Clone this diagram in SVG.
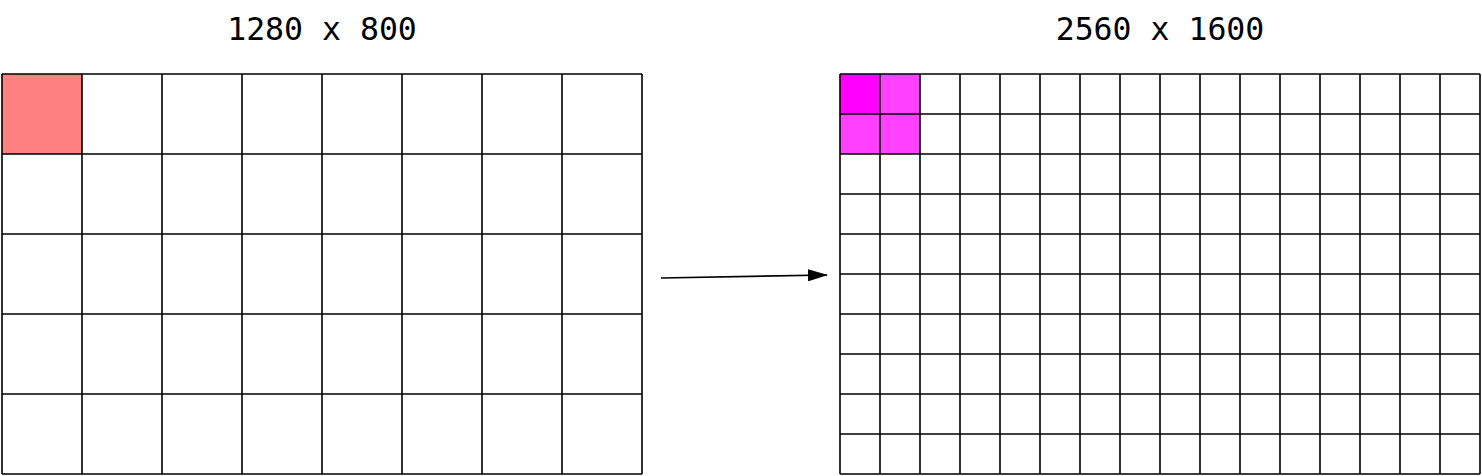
<svg xmlns="http://www.w3.org/2000/svg" width="1482" height="476" viewBox="0 0 1482 476">
<style>
.t{font-family:"DejaVu Sans Mono","Liberation Mono",monospace;font-size:31.5px;fill:#000;text-anchor:middle}
.g{fill:none;stroke:#000;stroke-width:1.6}
.c{stroke:#000;stroke-width:1.6}
</style>
<defs>
<marker id="ah" markerWidth="20" markerHeight="12" refX="19" refY="6" orient="auto" markerUnits="userSpaceOnUse">
<path d="M0,0 L20,6 L0,12 z" fill="#000"/>
</marker>
</defs>
<rect width="1482" height="476" fill="#fff"/>
<g id="label-left"><text class="t" x="322" y="40">1280 x 800</text></g>
<g id="label-right"><text class="t" x="1160" y="40">2560 x 1600</text></g>
<g id="grid-left">
<rect x="2" y="74" width="80" height="80" fill="#FF8080"/>
<path class="g" d="M2,74H642M2,154H642M2,234H642M2,314H642M2,394H642M2,474H642M2,74V474M82,74V474M162,74V474M242,74V474M322,74V474M402,74V474M482,74V474M562,74V474M642,74V474"/>
</g>
<g id="grid-right">
<rect x="840" y="74" width="40" height="40" fill="#FF00FF"/>
<rect x="880" y="74" width="40" height="40" fill="#FF40FF"/>
<rect x="840" y="114" width="80" height="40" fill="#FF40FF"/>
<path class="g" d="M840,74H1480M840,114H1480M840,154H1480M840,194H1480M840,234H1480M840,274H1480M840,314H1480M840,354H1480M840,394H1480M840,434H1480M840,474H1480M840,74V474M880,74V474M920,74V474M960,74V474M1000,74V474M1040,74V474M1080,74V474M1120,74V474M1160,74V474M1200,74V474M1240,74V474M1280,74V474M1320,74V474M1360,74V474M1400,74V474M1440,74V474M1480,74V474"/>
</g>
<g id="connectors">
<line class="c" x1="661" y1="278" x2="827" y2="275" marker-end="url(#ah)"/>
</g>
</svg>
